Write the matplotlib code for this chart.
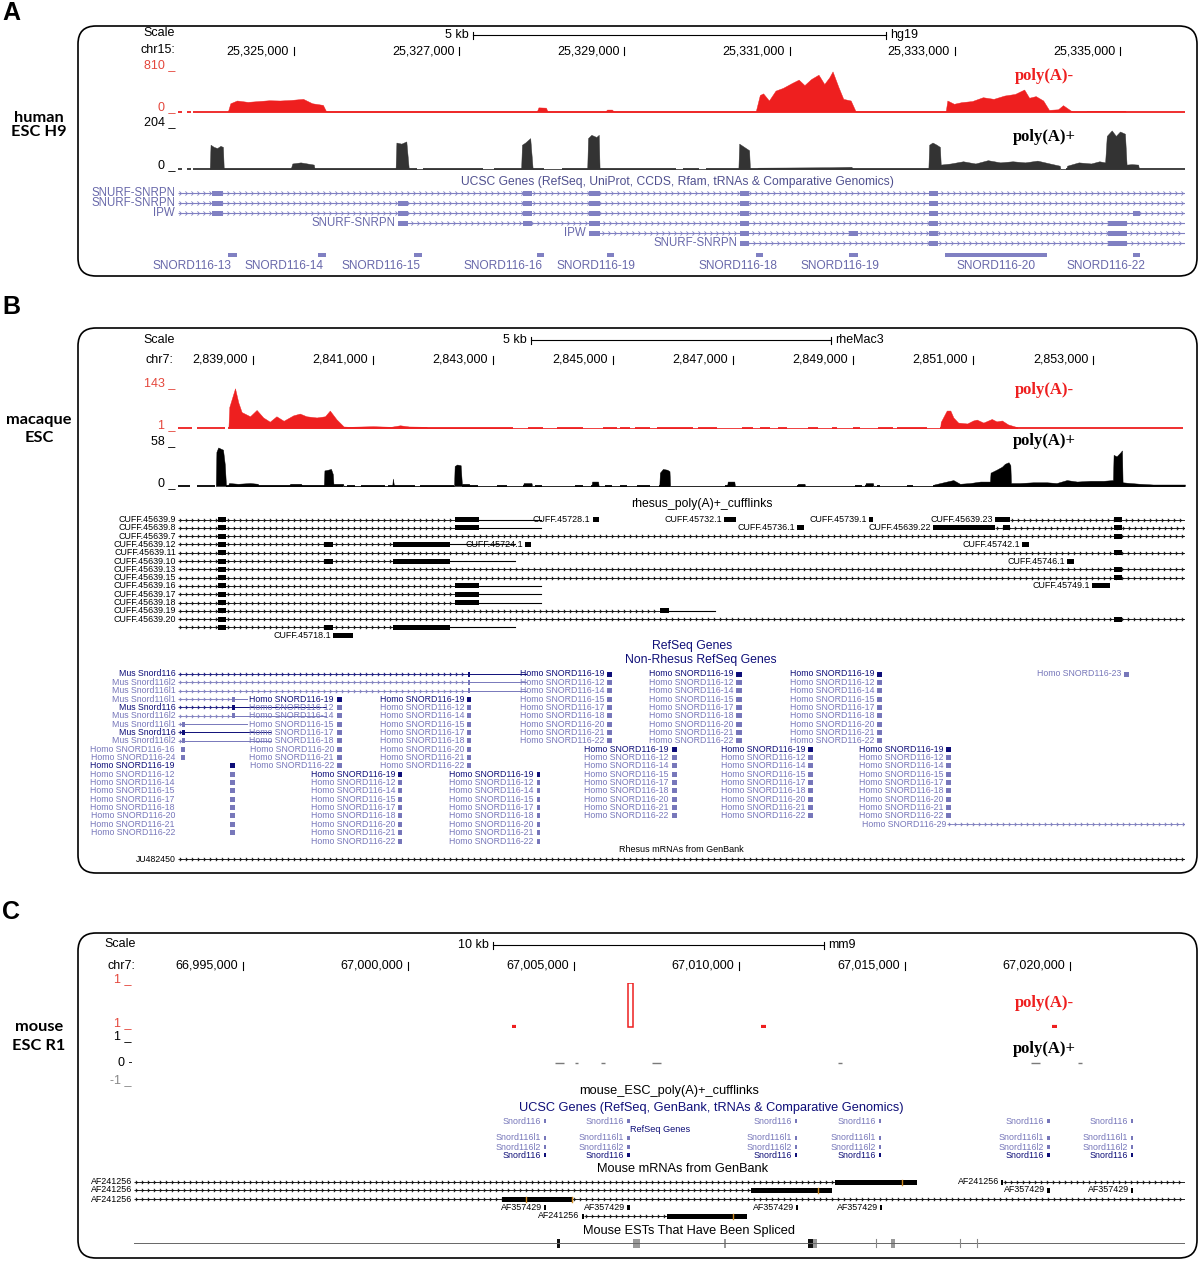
import numpy as np
import matplotlib.pyplot as plt
from matplotlib.patches import FancyBboxPatch, Rectangle

plt.rcParams['font.family'] = ['Liberation Sans', 'DejaVu Sans']

# ---------------- panel A: human ESC H9, hg19 chr15 (positions in kb) ----------------
A_view = (25323.596, 25335.787)
A_ticks = [25325, 25327, 25329, 25331, 25333, 25335]
A_scale = (25327.17, 25332.17)

A_minus_x = [25324.20, 25324.23, 25324.31, 25324.44, 25324.57, 25324.70, 25324.83, 25324.96, 25325.11,
             25325.22, 25325.35, 25325.39,
             25327.94, 25327.96, 25328.05, 25328.07,
             25328.77, 25328.79, 25328.85, 25328.87,
             25330.59, 25330.64, 25330.68, 25330.75, 25330.83, 25330.92, 25331.03, 25331.11, 25331.18,
             25331.26, 25331.35, 25331.42, 25331.48, 25331.52, 25331.59, 25331.65, 25331.74, 25331.80,
             25332.89, 25332.91, 25332.99, 25333.08, 25333.21, 25333.34, 25333.47, 25333.60, 25333.73,
             25333.84, 25333.90, 25333.98, 25334.07, 25334.14, 25334.25, 25334.31, 25334.42,
             25334.59, 25334.60, 25335.06, 25335.07]
A_minus_y = [0, 150, 200, 175, 190, 205, 200, 210, 230, 150, 120, 0,
             0, 75, 70, 0,
             0, 35, 35, 0,
             0, 300, 330, 200, 380, 430, 520, 580, 480, 590, 670, 500, 620, 730, 450, 230, 200, 0,
             0, 200, 140, 170, 190, 260, 230, 290, 320, 400, 250, 280, 200, 30, 40, 115, 0,
             0, 12, 12, 0]
A_minus_base = [(25323.60, 25323.65), (25323.70, 25323.75), (25323.78, 25335.79)]

A_plus_x = [25323.98, 25323.99, 25324.03, 25324.07, 25324.11, 25324.14, 25324.15,
            25324.96, 25324.98, 25325.08, 25325.16, 25325.24, 25325.25,
            25326.23, 25326.24, 25326.30, 25326.36, 25326.39,
            25327.75, 25327.76, 25327.80, 25327.86, 25327.89,
            25328.55, 25328.56, 25328.60, 25328.66, 25328.69, 25328.70,
            25330.38, 25330.39, 25330.45, 25330.51, 25330.52,
            25330.60, 25330.62, 25331.50, 25331.75, 25331.76,
            25332.68, 25332.69, 25332.73, 25332.78, 25332.82, 25332.83, 25332.95, 25333.10, 25333.25,
            25333.40, 25333.55, 25333.70, 25333.85, 25334.00, 25334.15, 25334.27, 25334.28,
            25334.35, 25334.36, 25334.50, 25334.65, 25334.75, 25334.82, 25334.84, 25334.90, 25334.95,
            25335.00, 25335.06, 25335.08, 25335.14, 25335.22, 25335.23]
A_plus_y = [0, 110, 100, 95, 105, 100, 0,
            0, 25, 30, 25, 20, 0,
            0, 120, 115, 125, 0,
            0, 110, 120, 140, 0,
            0, 140, 155, 145, 155, 0,
            0, 115, 100, 85, 0,
            0, 6, 8, 10, 0,
            0, 110, 120, 110, 100, 20, 25, 35, 25, 40, 30, 35, 30, 38, 25, 15, 0,
            0, 15, 30, 25, 35, 30, 150, 175, 150, 170, 160, 20, 22, 20, 0]
A_plus_base = [(25323.60, 25323.65), (25323.70, 25323.75), (25323.78, 25326.49), (25326.56, 25327.29),
               (25327.42, 25328.03), (25328.24, 25329.62), (25329.71, 25329.90), (25329.99, 25334.27),
               (25334.35, 25335.79)]

A_gene_names = ["SNURF-SNRPN", "SNURF-SNRPN", "IPW", "SNURF-SNRPN", "IPW", "SNURF-SNRPN"]
A_gene_start = [25323.596, 25323.596, 25323.596, 25326.26, 25328.57, 25330.40]
A_gene_end = 25335.787
A_gene_exons = [
    [(25324.01, 25324.14), (25327.77, 25327.88), (25328.57, 25328.70), (25330.40, 25330.51), (25332.69, 25332.80)],
    [(25324.01, 25324.14), (25326.26, 25326.38), (25327.77, 25327.88), (25328.57, 25328.70), (25330.40, 25330.51),
     (25332.69, 25332.80)],
    [(25324.01, 25324.14), (25326.26, 25326.38), (25327.77, 25327.88), (25328.57, 25328.70), (25330.40, 25330.51),
     (25332.69, 25332.80), (25335.16, 25335.24)],
    [(25326.26, 25326.38), (25327.77, 25327.88), (25328.57, 25328.70), (25330.40, 25330.51), (25332.69, 25332.80),
     (25334.85, 25335.08)],
    [(25328.57, 25328.70), (25330.40, 25330.51), (25331.72, 25331.83), (25332.69, 25332.80), (25334.85, 25335.08)],
    [(25330.40, 25330.51), (25332.69, 25332.80), (25334.85, 25335.08)],
]
A_snord_names = ["SNORD116-13", "SNORD116-14", "SNORD116-15", "SNORD116-16", "SNORD116-19",
                 "SNORD116-18", "SNORD116-19", "SNORD116-20", "SNORD116-22"]
A_snord_start = [25324.20, 25325.29, 25326.45, 25327.94, 25328.79, 25330.59, 25331.72, 25332.88, 25335.16]
A_snord_end = [25324.31, 25325.39, 25326.55, 25328.03, 25328.87, 25330.68, 25331.83, 25334.12, 25335.24]
A_snord_label_at = [25323.77, 25324.88, 25326.05, 25327.53, 25328.66, 25330.38, 25331.61, 25333.50, 25334.83]

# ---------------- panel B: macaque ESC, rheMac3 chr7 (kb) ----------------
B_view = (2837.75, 2854.53)
B_ticks = [2839, 2841, 2843, 2845, 2847, 2849, 2851, 2853]
B_scale = (2843.63, 2848.63)

B_minus_x = [2838.59, 2838.605, 2838.70, 2838.755, 2838.81, 2838.95, 2839.06, 2839.17, 2839.28, 2839.39,
             2839.51, 2839.67, 2839.78, 2839.89, 2840.06, 2840.20, 2840.28, 2840.39, 2840.51, 2840.60,
             2841.00, 2841.30, 2841.45, 2841.60, 2841.89, 2841.90,
             2850.45, 2850.46, 2850.56, 2850.62, 2850.67, 2850.75, 2850.90, 2851.00, 2851.06, 2851.17,
             2851.31, 2851.39, 2851.48, 2851.58, 2851.73, 2851.74]
B_minus_y = [0, 70, 132, 85, 53, 39, 60, 35, 21, 39, 24, 42, 48, 39, 35, 39, 58, 29, 5, 4, 6, 4, 9, 5, 4, 0,
             0, 20, 58, 58, 35, 18, 15, 25, 28, 18, 30, 22, 25, 12, 3, 0]
B_minus_base = [(2837.75, 2837.98), (2838.07, 2838.53), (2838.58, 2843.33), (2843.58, 2843.83),
                (2844.07, 2844.50), (2844.83, 2845.07), (2845.12, 2845.28), (2845.37, 2845.62),
                (2845.73, 2846.33), (2846.42, 2846.73), (2847.15, 2847.33), (2847.45, 2847.62),
                (2847.75, 2847.90), (2848.25, 2848.42), (2848.65, 2848.73), (2849.00, 2849.12),
                (2849.42, 2849.67), (2849.73, 2850.23), (2850.45, 2854.50)]

B_plus_x = [2838.38, 2838.39, 2838.42, 2838.47, 2838.50, 2838.53, 2838.55,
            2838.58, 2838.60, 2838.75, 2838.95, 2839.08, 2839.09,
            2839.60, 2839.62, 2839.80, 2839.82,
            2840.18, 2840.19, 2840.25, 2840.30, 2840.33, 2840.34, 2840.50, 2840.51,
            2841.32, 2841.33, 2841.35,
            2842.35, 2842.36, 2842.40, 2842.46, 2842.48, 2842.60, 2842.61,
            2843.50, 2843.51, 2843.64, 2843.65,
            2844.64, 2844.65, 2844.75, 2844.76,
            2845.77, 2845.78, 2845.83, 2845.90, 2845.94, 2845.95,
            2846.90, 2846.91, 2847.02, 2847.03,
            2848.07, 2848.08, 2848.19, 2848.20,
            2849.20, 2849.21, 2849.33, 2849.34,
            2850.34, 2850.35, 2850.56, 2850.67, 2850.78, 2850.95, 2851.12, 2851.28, 2851.29, 2851.39,
            2851.48, 2851.53, 2851.59, 2851.62, 2851.63, 2851.78, 2852.00, 2852.23, 2852.39, 2852.56,
            2852.73, 2852.95, 2853.17, 2853.33, 2853.34, 2853.39, 2853.45, 2853.48, 2853.49, 2853.62,
            2853.78, 2854.00, 2854.53]
B_plus_y = [0, 46, 52, 50, 49, 29, 0,
            0, 4, 3, 4, 3, 0,
            0, 3, 3, 0,
            0, 21, 22, 23, 16, 3, 3, 0,
            0, 10, 0,
            0, 27, 29, 28, 3, 3, 0,
            0, 4, 4, 0,
            0, 6, 6, 0,
            0, 18, 23, 22, 20, 0,
            0, 6, 6, 0,
            0, 3, 3, 0,
            0, 4, 4, 0,
            0, 2, 6, 8, 3, 4, 6, 6, 18, 22, 26, 30, 32, 28, 4, 4, 5, 5, 4, 8,
            6, 7, 7, 8, 42, 40, 45, 48, 5, 4, 3, 2, 2]
B_plus_base = [(2837.73, 2837.95), (2838.07, 2838.37), (2838.55, 2840.50), (2840.57, 2840.70),
               (2840.80, 2841.20), (2841.25, 2841.70), (2841.78, 2842.35), (2842.48, 2842.75),
               (2843.07, 2843.23), (2843.50, 2843.65), (2843.70, 2843.82), (2844.37, 2844.50),
               (2844.64, 2844.76), (2844.87, 2844.98), (2845.12, 2845.23), (2845.40, 2845.62),
               (2845.77, 2845.95), (2846.87, 2847.03), (2848.07, 2848.20), (2849.03, 2849.15),
               (2849.20, 2849.33), (2849.40, 2849.45), (2849.90, 2850.00), (2850.33, 2854.53)]

# cufflinks transcripts: name, row, intron span, exons, plain tail
B_cuff = [
    ("CUFF.45639.9", 0, (2837.75, 2842.36), [(2838.41, 2838.55), (2842.36, 2842.77)], (2842.77, 2843.80)),
    ("CUFF.45728.1", 0, None, [(2844.66, 2844.76)], None),
    ("CUFF.45732.1", 0, None, [(2846.85, 2847.05)], None),
    ("CUFF.45739.1", 0, None, [(2849.26, 2849.33)], None),
    ("CUFF.45639.23", 0, (2851.61, 2854.55), [(2851.37, 2851.61), (2853.35, 2853.48)], None),
    ("CUFF.45639.8", 1, (2837.75, 2842.36), [(2838.41, 2838.55), (2842.36, 2842.77)], (2842.77, 2843.80)),
    ("CUFF.45736.1", 1, None, [(2848.07, 2848.18)], None),
    ("CUFF.45639.22", 1, (2851.37, 2854.55), [(2850.33, 2851.37), (2851.49, 2851.61), (2853.35, 2853.48)], None),
    ("CUFF.45639.7", 2, (2837.75, 2854.55), [(2838.41, 2838.55), (2853.35, 2853.48)], None),
    ("CUFF.45639.12", 3, (2837.75, 2841.34), [(2838.41, 2838.55), (2840.19, 2840.33), (2841.34, 2842.28)],
     (2842.28, 2843.37)),
    ("CUFF.45724.1", 3, None, [(2843.53, 2843.63)], None),
    ("CUFF.45742.1", 3, None, [(2851.82, 2851.93)], None),
    ("CUFF.45639.11", 4, (2837.75, 2854.55), [(2838.41, 2838.55), (2853.35, 2853.48)], None),
    ("CUFF.45639.10", 5, (2837.75, 2841.34), [(2838.41, 2838.55), (2840.19, 2840.33), (2841.34, 2842.28)],
     (2842.28, 2843.37)),
    ("CUFF.45746.1", 5, None, [(2852.56, 2852.68)], None),
    ("CUFF.45639.13", 6, (2837.75, 2854.55), [(2838.41, 2838.55), (2853.35, 2853.48)], None),
    ("CUFF.45639.15", 7, (2837.75, 2854.55), [(2838.41, 2838.55), (2853.35, 2853.48)], None),
    ("CUFF.45639.16", 8, (2837.75, 2842.36), [(2838.41, 2838.55), (2842.36, 2842.77)], (2842.77, 2843.80)),
    ("CUFF.45749.1", 8, None, [(2852.98, 2853.28)], None),
    ("CUFF.45639.17", 9, (2837.75, 2842.36), [(2838.41, 2838.55), (2842.36, 2842.77)], (2842.77, 2843.80)),
    ("CUFF.45639.18", 10, (2837.75, 2842.36), [(2838.41, 2838.55), (2842.36, 2842.77)], (2842.77, 2843.80)),
    ("CUFF.45639.19", 11, (2837.75, 2845.78), [(2838.41, 2838.55), (2845.78, 2845.93)], (2845.93, 2846.70)),
    ("CUFF.45639.20", 12, (2837.75, 2854.55), [(2838.41, 2838.55), (2853.35, 2853.48)], None),
    ("", 13, (2837.75, 2841.34), [(2838.41, 2838.55), (2840.19, 2840.33), (2841.34, 2842.28)], (2842.28, 2843.37)),
    ("CUFF.45718.1", 14, None, [(2840.33, 2840.67)], None),
]

# mouse Snord116 alignments: name, row, intron span, exon, plain tail
B_mus = [
    ("Mus Snord116", 0, (2837.75, 2842.58), (2842.58, 2842.62), (2842.62, 2843.55)),
    ("Mus Snord116l2", 1, (2837.75, 2842.58), (2842.58, 2842.62), (2842.62, 2843.55)),
    ("Mus Snord116l1", 2, (2837.75, 2842.58), (2842.58, 2842.62), (2842.62, 2843.55)),
    ("Mus Snord116l1", 3, (2837.75, 2838.65), (2838.65, 2838.70), (2838.70, 2838.90)),
    ("Mus Snord116", 4, (2837.75, 2838.65), (2838.65, 2838.70), (2838.70, 2840.22)),
    ("Mus Snord116l2", 5, (2837.75, 2838.65), (2838.65, 2838.70), (2838.70, 2840.22)),
    ("Mus Snord116l1", 6, (2837.75, 2837.82), (2837.82, 2837.87), (2837.87, 2838.90)),
    ("Mus Snord116", 7, (2837.75, 2837.82), (2837.82, 2837.87), (2837.87, 2839.30)),
    ("Mus Snord116l2", 8, (2837.75, 2837.82), (2837.82, 2837.87), (2837.87, 2839.30)),
]
B_homo_members = ["19", "12", "14", "15", "17", "18", "20", "21", "22"]
B_homo_start = [2838.62, 2840.40, 2842.57, 2841.42, 2843.73, 2844.90, 2845.98, 2847.05, 2848.25, 2849.40, 2850.55]
B_homo_end = [2838.70, 2840.48, 2842.63, 2841.48, 2843.78, 2844.98, 2846.07, 2847.15, 2848.33, 2849.48, 2850.63]
B_homo_row = [11, 3, 3, 12, 12, 0, 9, 0, 9, 0, 9]
B_single_names = ["Homo SNORD116-16", "Homo SNORD116-24", "Homo SNORD116-23"]
B_single_start = [2837.80, 2837.80, 2853.52]
B_single_end = [2837.87, 2837.87, 2853.60]
B_single_row = [9, 10, 0]
B_homo29 = ("Homo SNORD116-29", 18, (2850.57, 2854.55))
B_mrna = ("JU482450", (2837.75, 2854.55))

# ---------------- panel C: mouse ESC R1, mm9 chr7 (kb) ----------------
C_view = (66991.72, 67023.47)
C_ticks = [66995, 67000, 67005, 67010, 67015, 67020]
C_scale = (67002.57, 67012.57)
C_minus_bar = (67006.65, 67006.80)
C_minus_marks = [(67003.14, 67003.26), (67010.66, 67010.82), (67019.46, 67019.61)]
C_plus_marks = [(67004.44, 67004.71), (67005.05, 67005.14), (67005.83, 67005.95), (67007.37, 67007.64),
                (67012.99, 67013.11), (67018.82, 67019.09), (67020.24, 67020.36)]
C_snord_start = [67004.10, 67006.61, 67011.68, 67014.22, 67019.30, 67021.83]
C_snord_end = [67004.18, 67006.69, 67011.76, 67014.30, 67019.38, 67021.91]
C_snord_names = ["Snord116", "Snord116l1", "Snord116l2", "Snord116"]
# GenBank mRNAs: name, row, intron span, exons, frame marks
C_mrna = [
    ("AF241256", 0, (66991.72, 67012.90), [(67012.90, 67015.38)], [67014.92]),
    ("AF241256", 0, (67017.98, 67023.50), [(67017.92, 67017.98)], []),
    ("AF241256", 1, (66991.72, 67010.36), [(67010.36, 67012.81)], [67012.37]),
    ("AF357429", 1, None, [(67019.30, 67019.38)], []),
    ("AF357429", 1, None, [(67021.83, 67021.91)], []),
    ("AF241256", 2, (66991.72, 67023.50), [(67002.84, 67004.98)], [67003.56, 67004.95]),
    ("AF357429", 3, None, [(67004.10, 67004.18)], []),
    ("AF357429", 3, None, [(67006.61, 67006.69)], []),
    ("AF357429", 3, None, [(67011.71, 67011.79)], []),
    ("AF357429", 3, None, [(67014.25, 67014.33)], []),
    ("AF241256", 4, (67005.30, 67007.82), [(67005.24, 67005.30), (67007.82, 67010.24)], [67009.82]),
]
C_est_span = (66991.72, 67023.47)
C_est_dark = [(67004.50, 67004.59), (67012.08, 67012.22)]
C_est_light = [(67006.80, 67007.01), (67009.55, 67009.61), (67012.22, 67012.36), (67014.60, 67014.70)]
C_est_ticks = [67014.14, 67016.68, 67017.19]

# ---------------- drawing ----------------
RED = "#ee1f1f"
RED_TXT = "#e4473c"
A_GENE = "#8080c2"
A_TXT = "#6868aa"
A_TITLE = "#50508f"
NAVY = "#0e0e78"
LIGHT = "#7777ba"
W, H = 1200, 1261

fig = plt.figure(figsize=(W / 100, H / 100), dpi=100)


def px_axes(x0, y0, x1, y1):
    ax = fig.add_axes([x0 / W, 1 - y1 / H, (x1 - x0) / W, (y1 - y0) / H])
    ax.set_axis_off()
    return ax


bg = px_axes(0, 0, W, H)
bg.set_xlim(0, W)
bg.set_ylim(H, 0)

CHEV = [(-1, 1), (0, 0), (-1, -1)]


def track_axes(x0, x1, y0, y1, view):
    ax = px_axes(x0, y0, x1, y1)
    ax.set_xlim(*view)
    ax.set_ylim(y1, y0)
    ax.ppk = (x1 - x0) / (view[1] - view[0])
    ax.view = view
    return ax


def intron(ax, a, b, y, color, lw=0.7, ms=2.8):
    ax.plot([a, b], [y, y], color=color, lw=lw, solid_capstyle='butt')
    step = 6.0 / ax.ppk
    xs = np.arange(a + step * 0.5, b, step)
    if len(xs):
        ax.plot(xs, np.full(len(xs), y), ls='none', marker=CHEV, ms=ms, mfc='none', mec=color, mew=0.6)


def block(ax, a, b, y, h, color):
    ax.add_patch(Rectangle((a, y - h / 2), b - a, h, facecolor=color, edgecolor='none'))


def feature_label(ax, x, y, text, color, fs, pad=2.0):
    width_kb = (len(text) * fs * 0.56 * 1.389 + 4) / ax.ppk
    if x - width_kb < ax.view[0]:
        x = ax.view[0]
    ax.annotate(text, (x, y), xytext=(-pad, 0), textcoords='offset points', ha='right', va='center',
                color=color, fontsize=fs, annotation_clip=False)


def ruler(ax, ticks, y):
    for t in ticks:
        ax.annotate(f"{int(round(t * 1000)):,}", (t, y), xytext=(-3.5, 0), textcoords='offset points',
                    ha='right', va='center', fontsize=9, annotation_clip=False)
        ax.plot([t, t], [y - 4, y + 4], color='black', lw=0.8)


def scalebar(ax, a, b, y, left, right):
    ax.plot([a, b], [y, y], color='black', lw=0.8)
    for t in (a, b):
        ax.plot([t, t], [y - 3.5, y + 3.5], color='black', lw=0.8)
    ax.annotate(left, (a, y), xytext=(-3, 0), textcoords='offset points', ha='right', va='center', fontsize=9)
    ax.annotate(right, (b, y), xytext=(3, 0), textcoords='offset points', ha='left', va='center', fontsize=9)


def coverage(x0, x1, y0, y1, view, vmax, xs, ys, color, base):
    ax = px_axes(x0, y0, x1, y1 + 1)
    pad = vmax / (y1 - y0)
    ax.set_xlim(*view)
    ax.set_ylim(-pad, vmax)
    if xs:
        ax.fill_between(xs, 0, ys, color=color, lw=0.3, edgecolor=color)
    ax.hlines([0] * len(base), [p[0] for p in base], [p[1] for p in base], color=color, lw=1.3)
    return ax


def left_text(x, y, s, color='black', fs=9):
    bg.text(x, y, s, ha='right', va='center', fontsize=fs, color=color)


def poly_labels(y_minus, y_plus):
    bg.text(1044, y_minus, "poly(A)-", ha='center', va='center', color=RED, fontsize=12,
            family='Liberation Serif', weight='bold')
    bg.text(1044, y_plus, "poly(A)+", ha='center', va='center', color='black', fontsize=12,
            family='Liberation Serif', weight='bold')


# frames, panel letters, species
for (x0, y0, x1, y1) in [(78, 26, 1197, 276), (78, 328, 1197, 873), (78, 933, 1197, 1258)]:
    bg.add_patch(FancyBboxPatch((x0, y0), x1 - x0, y1 - y0, boxstyle="round,pad=0,rounding_size=18",
                                facecolor='none', edgecolor='black', lw=1.2))
for letter, y in [("A", 13), ("B", 307), ("C", 912)]:
    bg.text(11, y, letter, ha='center', va='center', fontsize=18, weight='bold')
for lines, ys in [(("human", "ESC H9"), (118, 132)), (("macaque", "ESC"), (420, 438)),
                  (("mouse", "ESC R1"), (1027, 1046))]:
    for s, y in zip(lines, ys):
        bg.text(39, y, s, ha='center', va='center', fontsize=11.8, weight='bold', family='Lato')

# ---------- panel A ----------
axA = track_axes(178, 1185, 26, 276, A_view)
left_text(175, 33, "Scale")
left_text(175, 50, "chr15:")
ruler(axA, A_ticks, 51)
scalebar(axA, A_scale[0], A_scale[1], 35, "5 kb", "hg19")
left_text(175, 65, "810 _", RED_TXT)
left_text(175, 107, "0 _", RED_TXT)
left_text(175, 122, "204 _")
left_text(175, 165, "0 _")
coverage(178, 1185, 67, 111.5, A_view, 810, A_minus_x, A_minus_y, RED, A_minus_base)
coverage(178, 1185, 124, 169, A_view, 204, A_plus_x, A_plus_y, "#333333", A_plus_base)
poly_labels(76, 137)
bg.text(677, 182, "UCSC Genes (RefSeq, UniProt, CCDS, Rfam, tRNAs & Comparative Genomics)",
        ha='center', va='center', fontsize=8.7, color=A_TITLE)
for i, (name, start, exons) in enumerate(zip(A_gene_names, A_gene_start, A_gene_exons)):
    y = 193 + 10 * i
    intron(axA, start, A_gene_end, y, A_GENE, lw=0.8, ms=3)
    for a, b in exons:
        block(axA, a, b, y, 5, A_GENE)
    feature_label(axA, start, y, name, A_TXT, 8.3)
for name, a, b, lx in zip(A_snord_names, A_snord_start, A_snord_end, A_snord_label_at):
    block(axA, a, b, 255, 4, A_GENE)
    axA.text(lx, 266, name, ha='center', va='center', fontsize=8.6, color=A_TXT)

# ---------- panel B ----------
axB = track_axes(178, 1185, 328, 873, B_view)
left_text(175, 340, "Scale")
left_text(173, 360, "chr7:")
ruler(axB, B_ticks, 360)
scalebar(axB, B_scale[0], B_scale[1], 340, "5 kb", "rheMac3")
left_text(175, 383, "143 _", RED_TXT)
left_text(175, 425, "1 _", RED_TXT)
left_text(175, 441, "58 _")
left_text(175, 483, "0 _")
coverage(178, 1185, 385, 428, B_view, 143, B_minus_x, B_minus_y, RED, B_minus_base)
coverage(178, 1185, 443, 486, B_view, 58, B_plus_x, B_plus_y, "black", B_plus_base)
poly_labels(390, 441)
bg.text(702, 504, "rhesus_poly(A)+_cufflinks", ha='center', va='center', fontsize=8.8)
for name, row, span, exons, tail in B_cuff:
    y = 519.5 + 8.3 * row
    if span:
        intron(axB, span[0], span[1], y, 'black', lw=0.6, ms=2.4)
    if tail:
        axB.plot(tail, [y, y], color='black', lw=0.8)
    for a, b in exons:
        block(axB, a, b, y, 5, 'black')
    first = min([e[0] for e in exons] + ([span[0]] if span else []))
    if name:
        feature_label(axB, first, y, name, 'black', 6.4, pad=1.5)

bg.text(692, 646, "RefSeq Genes", ha='center', va='center', fontsize=8.8, color=NAVY)
bg.text(701, 660, "Non-Rhesus RefSeq Genes", ha='center', va='center', fontsize=8.8, color=NAVY)


def homo_y(row):
    return 674 + 8.35 * row


for name, row, span, exon, tail in B_mus:
    y = homo_y(row)
    col = NAVY if name == "Mus Snord116" else LIGHT
    intron(axB, span[0], span[1], y, col, lw=0.6, ms=2.4)
    axB.plot(tail, [y, y], color=col, lw=0.7)
    block(axB, exon[0], exon[1], y, 5, col)
    feature_label(axB, span[0], y, name, col, 6.3, pad=1.5)
for a, b, r0 in zip(B_homo_start, B_homo_end, B_homo_row):
    for k, member in enumerate(B_homo_members):
        y = homo_y(r0 + k)
        col = NAVY if k == 0 else LIGHT
        block(axB, a, b, y, 5, col)
        feature_label(axB, a, y, "Homo SNORD116-" + member, col, 6.3, pad=2.2)
for name, a, b, row in zip(B_single_names, B_single_start, B_single_end, B_single_row):
    y = homo_y(row)
    block(axB, a, b, y, 5, LIGHT)
    feature_label(axB, a, y, name, LIGHT, 6.3, pad=2.2)
y29 = homo_y(B_homo29[1])
intron(axB, B_homo29[2][0], B_homo29[2][1], y29, LIGHT, lw=0.6, ms=2.4)
feature_label(axB, B_homo29[2][0], y29, B_homo29[0], LIGHT, 6.3, pad=1.0)

bg.text(681, 849, "Rhesus mRNAs from GenBank", ha='center', va='center', fontsize=6.5)
intron(axB, B_mrna[1][0], B_mrna[1][1], 859, 'black', lw=0.6, ms=2.4)
feature_label(axB, B_mrna[1][0], 859, B_mrna[0], 'black', 6.3, pad=1.5)

# ---------- panel C ----------
axC = track_axes(134, 1185, 933, 1258, C_view)
left_text(136, 944, "Scale")
left_text(135, 966, "chr7:")
ruler(axC, C_ticks, 966)
scalebar(axC, C_scale[0], C_scale[1], 945, "10 kb", "mm9")
left_text(132, 979, "1 _", RED_TXT)
left_text(132, 1023, "1 _", RED_TXT)
left_text(132, 1036, "1 _")
left_text(132, 1063, "0 -")
left_text(132, 1080, "-1 _", "#888888")
covC = coverage(134, 1185, 983, 1027, C_view, 1, [], [], RED, C_minus_marks)
covC.hlines([0] * len(C_minus_marks), [p[0] for p in C_minus_marks], [p[1] for p in C_minus_marks],
            color=RED, lw=3)
covC.bar((C_minus_bar[0] + C_minus_bar[1]) / 2, 1, width=C_minus_bar[1] - C_minus_bar[0],
         fill=False, edgecolor=RED, lw=1.1)
axC.hlines([1063] * len(C_plus_marks), [p[0] for p in C_plus_marks], [p[1] for p in C_plus_marks],
           color='#7a7a7a', lw=1.0)
poly_labels(1003, 1049)

bg.text(669, 1091, "mouse_ESC_poly(A)+_cufflinks", ha='center', va='center', fontsize=9.2)
bg.text(711, 1108, "UCSC Genes (RefSeq, GenBank, tRNAs & Comparative Genomics)", ha='center',
        va='center', fontsize=9.2, color=NAVY)
bg.text(660, 1130, "RefSeq Genes", ha='center', va='center', fontsize=6.6, color=NAVY)
for a, b in zip(C_snord_start, C_snord_end):
    for k, (name, y) in enumerate(zip(C_snord_names, [1121, 1138, 1147, 1155])):
        col = NAVY if k == 3 else LIGHT
        block(axC, a, b, y, 4.5, col)
        feature_label(axC, a, y, name, col, 6.4, pad=2.0)

bg.text(683, 1169, "Mouse mRNAs from GenBank", ha='center', va='center', fontsize=9.2)
for name, row, span, exons, marks in C_mrna:
    y = [1182, 1190, 1199, 1207, 1216][row]
    if span:
        intron(axC, span[0], span[1], y, 'black', lw=0.6, ms=2.4)
    for a, b in exons:
        block(axC, a, b, y, 5, 'black')
    for m in marks:
        axC.plot([m, m], [y - 2.5, y + 2.5], color='#d08a20', lw=1.0)
    first = min([e[0] for e in exons] + ([span[0]] if span else []))
    feature_label(axC, first, y, name, 'black', 6.4, pad=1.5)

bg.text(689, 1231, "Mouse ESTs That Have Been Spliced", ha='center', va='center', fontsize=9.2)
axC.plot(C_est_span, [1243, 1243], color='#666666', lw=0.7)
for a, b in C_est_dark:
    block(axC, a, b, 1243, 9, '#111111')
for a, b in C_est_light:
    block(axC, a, b, 1243, 9, '#999999')
for t in C_est_ticks:
    axC.plot([t, t], [1239, 1247], color='#888888', lw=0.8)

fig.savefig("out.png", dpi=100)
